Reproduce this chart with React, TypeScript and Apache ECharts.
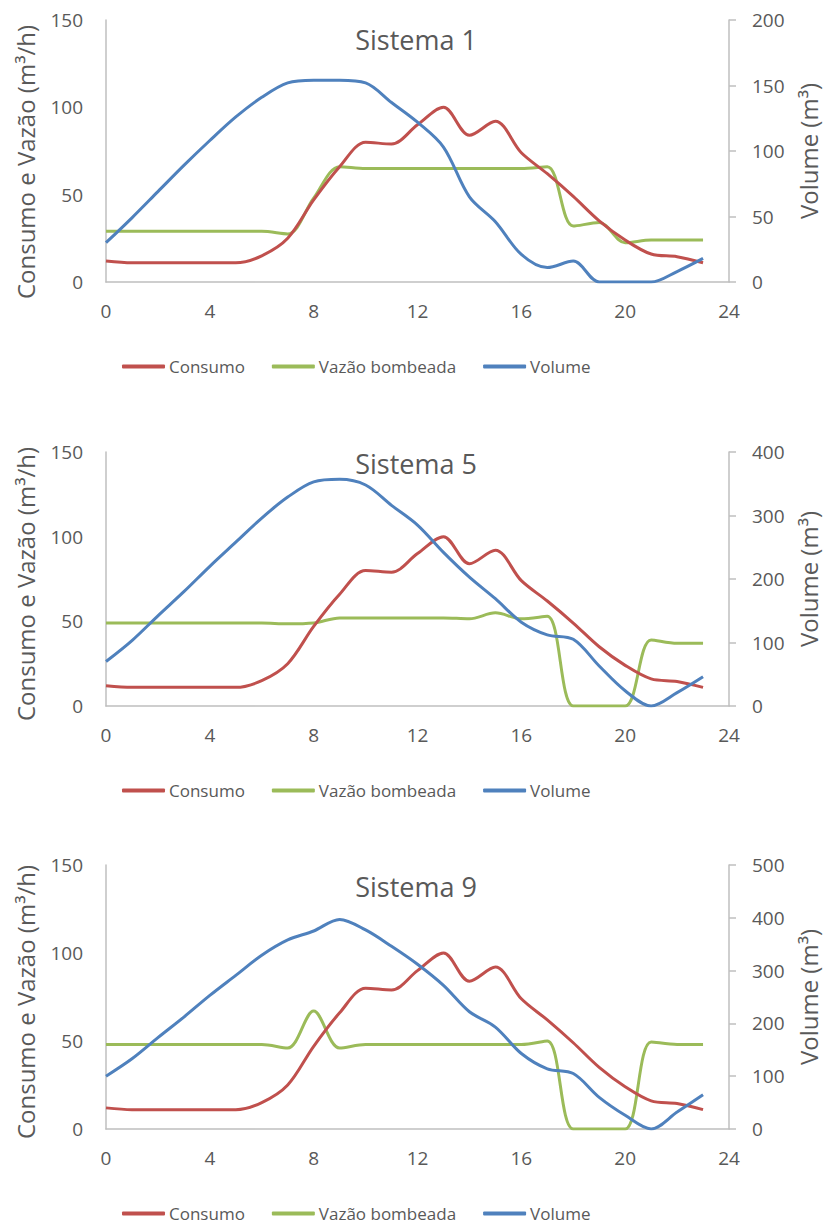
import React, { useEffect, useRef } from "react";
import * as echarts from "echarts";

const hours = [0, 1, 2, 3, 4, 5, 6, 7, 8, 9, 10, 11, 12, 13, 14, 15, 16, 17, 18, 19, 20, 21, 22, 23];
const seriesNames = ["Consumo", "Vazão bombeada", "Volume"];
const panelTitles = ["Sistema 1", "Sistema 5", "Sistema 9"];

const consumo = [12, 11, 11, 11, 11, 11, 15, 25, 47, 66, 80, 79, 90, 100, 84, 92, 74, 62, 49, 35, 24, 16, 14.5, 11];

const vazao1 = [29, 29, 29, 29, 29, 29, 29, 27.5, 48, 66, 65, 65, 65, 65, 65, 65, 65, 66, 32, 34, 22.5, 24, 24, 24];
const volume1 = [30, 49, 69, 89, 108, 126, 141, 152, 154, 154, 152, 137, 122, 103, 65, 46, 21, 11, 16, 0, 0, 0, 8, 18];

const vazao5 = [49, 49, 49, 49, 49, 49, 49, 48.5, 49, 52, 52, 52, 52, 52, 51.5, 55, 51.5, 53, 0, 0, 0, 39, 37, 37];
const volume5 = [70, 103, 142, 180, 220, 258, 296, 329, 353, 357, 348, 316, 285, 242, 203, 169, 132, 112, 105, 63, 24, 0, 21, 46];

const vazao9 = [48, 48, 48, 48, 48, 48, 48, 46, 67, 46, 48, 48, 48, 48, 48, 48, 48, 50, 0, 0, 0, 49.5, 48, 48];
const volume9 = [100, 133, 173, 212, 253, 291, 329, 358, 375, 397, 377, 346, 312, 272, 222, 193, 143, 114, 105, 60, 26, 0, 32, 65];

const volumeMax = [200, 400, 500];
const volumeInterval = [50, 100, 100];
const flowMax = 150;
const flowInterval = 50;
const hourMax = 24;
const hourInterval = 4;

const panels = [
  { vazao: vazao1, volume: volume1 },
  { vazao: vazao5, volume: volume5 },
  { vazao: vazao9, volume: volume9 },
];

// layout
const gridTops = [20, 452, 865];
const gridHeights = [262, 254, 264];
const titleYs = [39, 463, 886];
const legendYs = [366, 790, 1213];

const COLORS = ["#C0504D", "#9BBB59", "#4F81BD"];
const TEXT = "#595959";
const AXIS = "#BFBFBF";
const FONT = "'Open Sans', sans-serif";

const pairs = (vals: number[]) => hours.map((h, i) => [h, vals[i]]);

export default function App() {
  const ref = useRef<HTMLDivElement>(null);
  useEffect(() => {
    document.body.style.margin = "0";
    if (!ref.current) return;
    const chart = echarts.init(ref.current, null, { renderer: "svg" });

    const grid: any[] = [];
    const xAxis: any[] = [];
    const yAxis: any[] = [];
    const series: any[] = [];
    const legend: any[] = [];
    const graphic: any[] = [];

    panels.forEach((p, i) => {
      grid.push({ left: 106, right: 97, top: gridTops[i], height: gridHeights[i] });
      xAxis.push({
        type: "value",
        gridIndex: i,
        min: 0,
        max: hourMax,
        interval: hourInterval,
        axisLine: { show: true, lineStyle: { color: AXIS, width: 1.5 } },
        axisTick: { show: false },
        splitLine: { show: false },
        axisLabel: { color: TEXT, fontSize: 19, fontFamily: FONT, margin: 19 },
      });
      yAxis.push({
        type: "value",
        gridIndex: i,
        position: "left",
        min: 0,
        max: flowMax,
        interval: flowInterval,
        axisLine: { show: true, lineStyle: { color: AXIS, width: 1.5 } },
        axisTick: { show: false },
        splitLine: { show: false },
        axisLabel: { color: TEXT, fontSize: 19, fontFamily: FONT, margin: 23 },
      });
      yAxis.push({
        type: "value",
        gridIndex: i,
        position: "right",
        min: 0,
        max: volumeMax[i],
        interval: volumeInterval[i],
        axisLine: { show: true, lineStyle: { color: AXIS, width: 1.5 } },
        axisTick: { show: true, length: 7, inside: false, lineStyle: { color: AXIS, width: 1.5 } },
        splitLine: { show: false },
        axisLabel: { color: TEXT, fontSize: 19, fontFamily: FONT, margin: 23 },
      });
      const common = {
        type: "line",
        xAxisIndex: i,
        smooth: 0.33,
        showSymbol: false,
        symbol: "none",
      };
      series.push({ ...common, name: seriesNames[0], yAxisIndex: i * 2, data: pairs(consumo), color: COLORS[0], lineStyle: { width: 3, color: COLORS[0] }, z: 3 });
      series.push({ ...common, name: seriesNames[1], yAxisIndex: i * 2, data: pairs(p.vazao), color: COLORS[1], lineStyle: { width: 3, color: COLORS[1] }, z: 2 });
      series.push({ ...common, name: seriesNames[2], yAxisIndex: i * 2 + 1, data: pairs(p.volume), color: COLORS[2], lineStyle: { width: 3, color: COLORS[2] }, z: 4 });

      legend.push({
        data: seriesNames,
        left: 122,
        top: legendYs[i] - 8,
        padding: 0,
        icon: "roundRect",
        itemWidth: 43,
        itemHeight: 4,
        itemGap: 27,
        textStyle: { color: TEXT, fontSize: 17, fontFamily: FONT, padding: [0, 0, 0, -1] },
      });

      const mid = gridTops[i] + gridHeights[i] / 2;
      graphic.push({
        type: "text",
        x: 416,
        y: titleYs[i],
        style: { text: panelTitles[i], fill: TEXT, font: `27px ${FONT}`, align: "center", verticalAlign: "middle" },
      });
      graphic.push({
        type: "text",
        x: 25,
        y: mid + (i === 0 ? 11 : 5),
        rotation: Math.PI / 2,
        style: { text: "Consumo e Vazão (m³/h)", fill: TEXT, font: `24px ${FONT}`, align: "center", verticalAlign: "middle" },
      });
      graphic.push({
        type: "text",
        x: 808,
        y: mid,
        rotation: Math.PI / 2,
        style: { text: "Volume (m³)", fill: TEXT, font: `24px ${FONT}`, align: "center", verticalAlign: "middle" },
      });
    });

    chart.setOption({
      animation: false,
      backgroundColor: "#ffffff",
      grid,
      xAxis,
      yAxis,
      series,
      legend,
      graphic,
    });
    return () => chart.dispose();
  }, []);
  return <div ref={ref} style={{ width: 826, height: 1225 }} />;
}
